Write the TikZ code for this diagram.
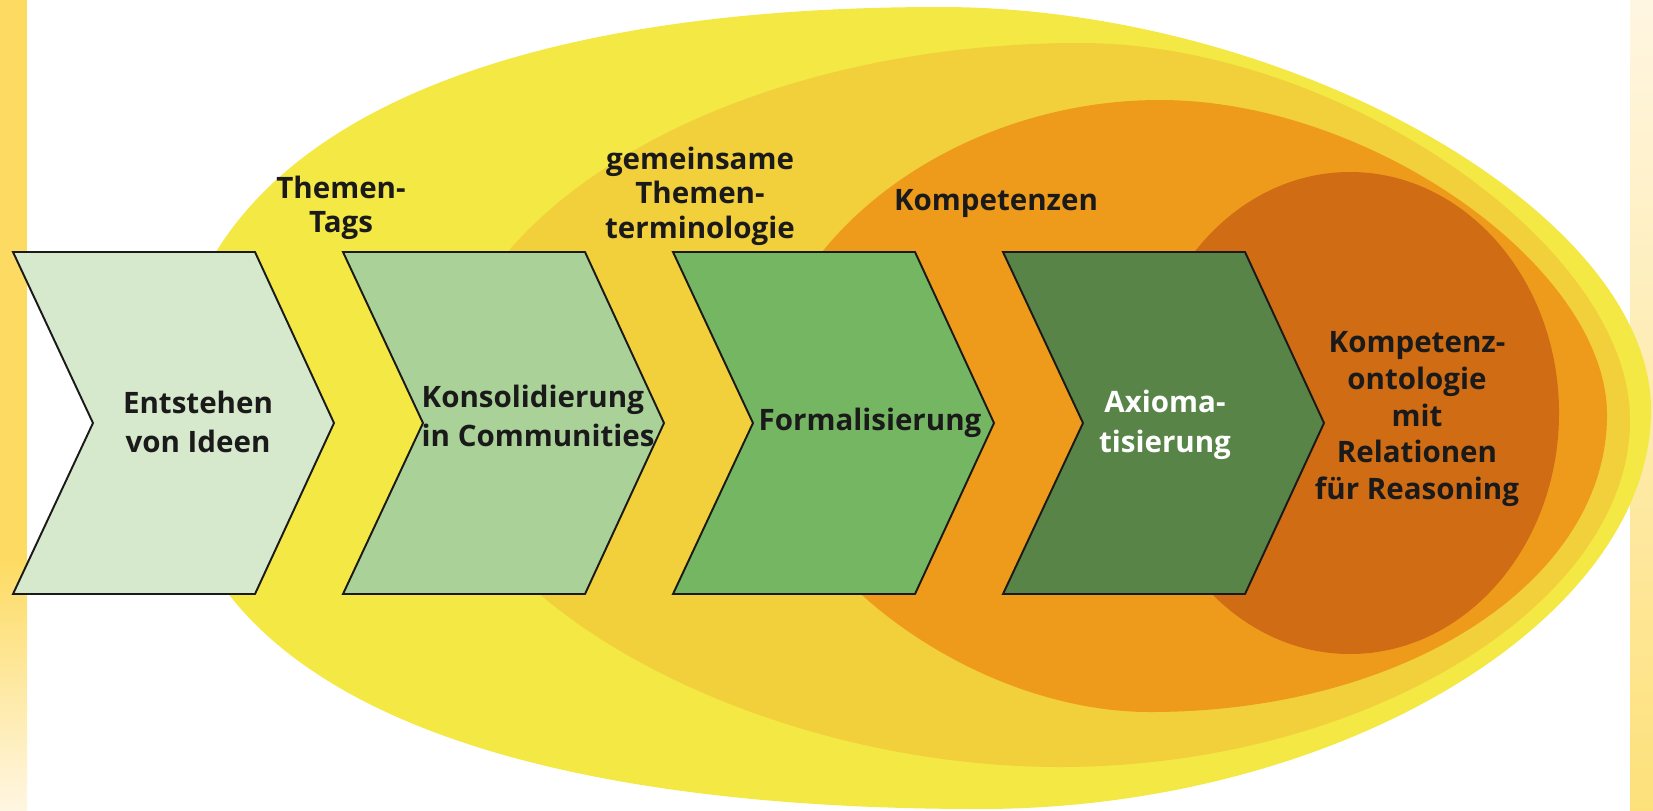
\documentclass[tikz,border=0pt]{standalone}
\usepackage{fontspec}
\setmainfont{Open Sans}
\usepackage{xcolor}

\definecolor{stripyellow}{HTML}{FDDB63}
\definecolor{strippale}{HTML}{FFF6E2}
\definecolor{layerA}{HTML}{F4E845}
\definecolor{layerB}{HTML}{F2D03B}
\definecolor{layerC}{HTML}{EE9B1B}
\definecolor{layerD}{HTML}{CF6C14}
\definecolor{chevA}{HTML}{D6E9CC}
\definecolor{chevB}{HTML}{AAD298}
\definecolor{chevC}{HTML}{75B663}
\definecolor{chevD}{HTML}{588447}
\definecolor{ink}{HTML}{1B1A1A}

\begin{document}
\begin{tikzpicture}[
  x=0.1mm, y=-0.1mm,
  chev/.style={draw=ink, line width=0.55pt, line join=miter},
  steptext/.style={font=\fontsize{8.4}{11.3}\selectfont\bfseries, text=ink, align=center, inner sep=0pt},
  layertext/.style={font=\fontsize{8.4}{9.8}\selectfont\bfseries, text=ink, align=center, inner sep=0pt}
]
\useasboundingbox (0,0) rectangle (1653,810);

% side strips
\fill[stripyellow] (0,0) rectangle (27,560);
\shade[top color=stripyellow, bottom color=strippale] (0,560) rectangle (27,810);
\shade[top color=strippale, bottom color=stripyellow!85] (1630,0) rectangle (1653,810);

% nested layers
\fill[layerA] (170,420) .. controls (170,156) and (447,7) .. (940,7)
  .. controls (1288,7) and (1651,212) .. (1651,410)
  .. controls (1651,621) and (1336,809) .. (980,809)
  .. controls (457,809) and (170,671) .. cycle;
\fill[layerB] (440,420) .. controls (440,213) and (728,43) .. (1080,43)
  .. controls (1337,43) and (1630,244) .. (1630,420)
  .. controls (1630,605) and (1364,767) .. (1060,767)
  .. controls (750,767) and (440,594) .. cycle;
\fill[layerC] (762,410) .. controls (762,246) and (949,100) .. (1160,100)
  .. controls (1370,100) and (1607,267) .. (1607,415)
  .. controls (1607,581) and (1406,712) .. (1150,712)
  .. controls (964,712) and (762,555) .. cycle;
\fill[layerD] (1350,413) ellipse [x radius=209, y radius=241];

% chevrons
\filldraw[chev, fill=chevA] (13,252) -- (255,252) -- (334,423) -- (255,594) -- (13,594) -- (93,423) -- cycle;
\filldraw[chev, fill=chevB] (343,252) -- (585,252) -- (664,423) -- (585,594) -- (343,594) -- (423,423) -- cycle;
\filldraw[chev, fill=chevC] (673,252) -- (915,252) -- (994,423) -- (915,594) -- (673,594) -- (753,423) -- cycle;
\filldraw[chev, fill=chevD] (1003,252) -- (1245,252) -- (1324,423) -- (1245,594) -- (1003,594) -- (1083,423) -- cycle;

% step texts
\node[steptext] (ideen) at (198,422) {Entstehen\\von Ideen};
\node[steptext, align=left, anchor=west] (konsol) at (421,416) {Konsolidierung\\in Communities};
\node[steptext] (formal) at (870,423) {Formalisierung};
\node[steptext, text=white] (axiom) at (1165,425) {Axioma-\\tisierung};
\node[steptext, font=\fontsize{8.4}{10.5}\selectfont\bfseries] (ontol) at (1417,419) {Kompetenz-\\ontologie\\mit\\Relationen\\für Reasoning};

% layer labels
\node[layertext] (tags) at (341,208) {Themen-\\Tags};
\node[layertext] (termin) at (700,196) {gemeinsame\\Themen-\\terminologie};
\node[layertext] (kompet) at (996,204) {Kompetenzen};
\end{tikzpicture}
\end{document}
